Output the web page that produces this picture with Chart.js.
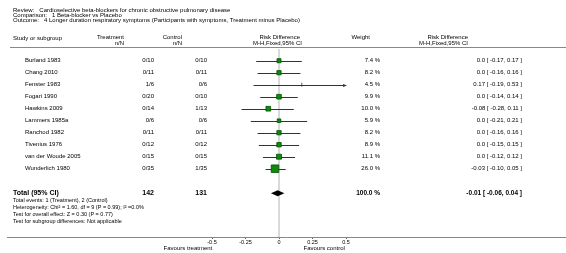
<!DOCTYPE html>
<html lang="en">
  <head>
    <meta charset="UTF-8" />
    <title>Forest plot - longer duration respiratory symptoms</title>
    <style>
      * { margin: 0; padding: 0; }
      body { background: #fff; width: 566px; height: 253px; overflow: hidden; }
      canvas { display: block; }
    </style>
  </head>
  <body>
    <canvas id="forest" width="566" height="253"></canvas>

    <script src="https://cdn.jsdelivr.net/npm/chart.js"></script>

    <script>
      // data block
      const studies = ["Burland 1983", "Chang 2010", "Fenster 1983", "Fogari 1990", "Hawkins 2009",
        "Lammers 1985a", "Ranchod 1982", "Tivenius 1976", "van der Woude 2005", "Wunderlich 1980"];
      const treatment = ["0/10", "0/11", "1/6", "0/20", "0/14", "0/6", "0/11", "0/12", "0/15", "0/35"];
      const control = ["0/10", "0/11", "0/6", "0/10", "1/13", "0/6", "0/11", "0/12", "0/15", "1/35"];
      const riskDiff = [0, 0, 0.17, 0, -0.08, 0, 0, 0, 0, -0.03];
      const lower = [-0.17, -0.16, -0.19, -0.14, -0.28, -0.21, -0.16, -0.15, -0.12, -0.10];
      const upper = [0.17, 0.16, 0.53, 0.14, 0.11, 0.21, 0.16, 0.15, 0.12, 0.05];
      const weights = [7.4, 8.2, 4.5, 9.9, 10.0, 5.9, 8.2, 8.9, 11.1, 26.0];
      const total = { est: -0.01, lo: -0.06, hi: 0.04, nT: "142", nC: "131", weight: 100.0 };
      const xTicks = [-0.5, -0.25, 0, 0.25, 0.5];
      const xTickLabels = ["-0.5", "-0.25", "0", "0.25", "0.5"];
      const totalRow = 11.05;

      const titleLines = [
        "Review:   Cardioselective beta-blockers for chronic obstructive pulmonary disease",
        "Comparison:   1 Beta-blocker vs Placebo",
        "Outcome:   4 Longer duration respiratory symptoms (Participants with symptoms, Treatment minus Placebo)"
      ];
      const footLines = [
        "Total events: 1 (Treatment), 2 (Control)",
        "Heterogeneity: Chi\u00B2 = 1.60, df = 9 (P = 0.99); I\u00B2 =0.0%",
        "Test for overall effect: Z = 0.30 (P = 0.77)",
        "Test for subgroup differences: Not applicable"
      ];

      const FONT = "'Liberation Sans', Arial, sans-serif";
      const fmtEst = v => (v === 0 ? "0.0" : v.toFixed(2));
      const fmtCI = (e, l, h) => fmtEst(e) + " [ " + l.toFixed(2) + ", " + h.toFixed(2) + " ]";

      // table text, header lines, axis line
      const tableText = {
        id: "tableText",
        afterDraw(chart) {
          const { ctx, scales: { x, y } } = chart;
          ctx.save();
          ctx.fillStyle = "#000";
          ctx.textBaseline = "middle";

          ctx.font = "6px " + FONT;
          ctx.textAlign = "left";
          titleLines.forEach((t, i) => ctx.fillText(t, 13, 10.3 + i * 5.2));

          // headers
          ctx.fillText("Study or subgroup", 13, 38);
          ctx.textAlign = "right";
          ctx.fillText("Treatment", 124, 37);
          ctx.fillText("n/N", 124, 43);
          ctx.fillText("Control", 182, 37);
          ctx.fillText("n/N", 182, 43);
          ctx.fillText("Risk Difference", 300, 37);
          ctx.fillText("M-H,Fixed,95% CI", 302, 43);
          ctx.fillText("Weight", 370, 37);
          ctx.fillText("Risk Difference", 468, 37);
          ctx.fillText("M-H,Fixed,95% CI", 468, 43);

          ctx.strokeStyle = "#888";
          ctx.lineWidth = 1;
          ctx.beginPath();
          ctx.moveTo(10, 47.5);
          ctx.lineTo(566, 47.5);
          ctx.moveTo(7, chart.chartArea.bottom + 0.5);
          ctx.lineTo(566, chart.chartArea.bottom + 0.5);
          ctx.stroke();

          // study rows
          studies.forEach((s, i) => {
            const py = y.getPixelForValue(i);
            ctx.textAlign = "left";
            ctx.fillText(s, 25, py);
            ctx.textAlign = "right";
            ctx.fillText(treatment[i], 154, py);
            ctx.fillText(control[i], 207, py);
            ctx.fillText(weights[i].toFixed(1) + " %", 380, py);
            ctx.fillText(fmtCI(riskDiff[i], lower[i], upper[i]), 522, py);
          });

          // total row
          const ty = y.getPixelForValue(totalRow);
          ctx.font = "bold 7px " + FONT;
          ctx.textAlign = "left";
          ctx.fillText("Total (95% CI)", 13, ty);
          ctx.textAlign = "right";
          ctx.fillText(total.nT, 154, ty);
          ctx.fillText(total.nC, 207, ty);
          ctx.font = "bold 6.5px " + FONT;
          ctx.fillText(total.weight.toFixed(1) + " %", 380, ty);
          ctx.fillText(fmtCI(total.est, total.lo, total.hi), 522, ty);

          ctx.font = "5.5px " + FONT;
          ctx.textAlign = "left";
          footLines.forEach((t, i) => ctx.fillText(t, 13, 200.5 + i * 6.9));

          ctx.font = "6px " + FONT;
          ctx.textAlign = "center";
          ctx.fillText("Favours treatment", x.getPixelForValue(-0.68), 248.3);
          ctx.fillText("Favours control", x.getPixelForValue(0.337), 248.3);
          ctx.restore();
        }
      };

      // zero line, whiskers, arrow, diamond
      const whiskers = {
        id: "whiskers",
        beforeDatasetsDraw(chart) {
          const { ctx, chartArea, scales: { x, y } } = chart;
          ctx.save();
          const x0 = x.getPixelForValue(0);
          ctx.strokeStyle = "#d9d9d9";
          ctx.lineWidth = 2;
          ctx.beginPath();
          ctx.moveTo(x0, chartArea.top + 1);
          ctx.lineTo(x0, chartArea.bottom);
          ctx.stroke();

          ctx.strokeStyle = "#333";
          ctx.fillStyle = "#333";
          ctx.lineWidth = 1;
          studies.forEach((s, i) => {
            const py = Math.round(y.getPixelForValue(i)) + 0.5;
            const hiClip = Math.min(upper[i], x.max);
            const loClip = Math.max(lower[i], x.min);
            const xl = x.getPixelForValue(loClip);
            const xr = x.getPixelForValue(hiClip);
            ctx.beginPath();
            ctx.moveTo(xl, py);
            ctx.lineTo(xr, py);
            ctx.stroke();
            if (upper[i] > x.max) {
              ctx.beginPath();
              ctx.moveTo(xr + 1, py);
              ctx.lineTo(xr - 3, py - 1.5);
              ctx.lineTo(xr - 3, py + 1.5);
              ctx.closePath();
              ctx.fill();
            }
          });

          const ty = y.getPixelForValue(totalRow);
          ctx.fillStyle = "#000";
          ctx.beginPath();
          ctx.moveTo(x.getPixelForValue(total.lo), ty);
          ctx.lineTo(x.getPixelForValue(total.est), ty - 3);
          ctx.lineTo(x.getPixelForValue(total.hi), ty);
          ctx.lineTo(x.getPixelForValue(total.est), ty + 3);
          ctx.closePath();
          ctx.fill();
          ctx.restore();
        }
      };

      const config = {
        type: "scatter",
        data: {
          datasets: [
            {
              label: "Risk difference",
              data: riskDiff.map((v, i) => ({ x: v, y: i })),
              pointStyle: c => (upper[c.dataIndex] > 0.5 ? "line" : "rect"),
              rotation: c => (upper[c.dataIndex] > 0.5 ? 90 : 0),
              pointRadius: c => (upper[c.dataIndex] > 0.5 ? 2 : 1.05 * Math.sqrt(weights[c.dataIndex])),
              backgroundColor: "#0b8a0b",
              borderColor: c => (upper[c.dataIndex] > 0.5 ? "#333" : "#035203"),
              borderWidth: 0.8,
              clip: false
            }
          ]
        },
        options: {
          responsive: false,
          animation: false,
          devicePixelRatio: 1,
          layout: { padding: { left: 212, right: 220, top: 48, bottom: 0 } },
          plugins: { legend: { display: false }, tooltip: { enabled: false } },
          scales: {
            x: {
              type: "linear",
              min: -0.5,
              max: 0.5,
              afterBuildTicks: s => { s.ticks = xTicks.map(v => ({ value: v })); },
              afterFit: s => { s.height = 16; },
              border: { display: false },
              grid: { drawOnChartArea: false, drawTicks: true, tickLength: 2, color: "#666" },
              ticks: {
                padding: 0,
                color: "#000",
                font: { family: FONT, size: 5.5 },
                callback: (v, i) => xTickLabels[i]
              }
            },
            y: { type: "linear", display: false, min: -1.06, max: 14.69, reverse: true }
          }
        },
        plugins: [whiskers, tableText]
      };

      const forest = new Chart(document.getElementById("forest"), config);
    </script>
  </body>
</html>
